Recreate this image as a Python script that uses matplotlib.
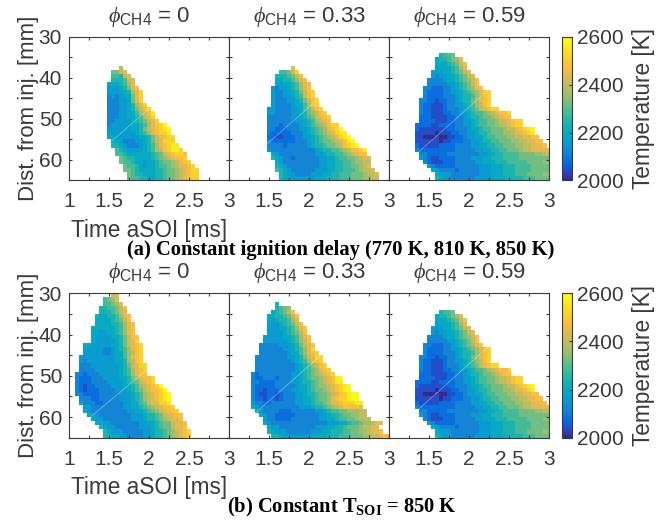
import numpy as np
import matplotlib
matplotlib.use('Agg')
import matplotlib.pyplot as plt
from matplotlib.colors import LinearSegmentedColormap

plt.rcParams['font.family'] = ['Liberation Sans', 'DejaVu Sans']
plt.rcParams['mathtext.fontset'] = 'custom'
plt.rcParams['mathtext.rm'] = 'Liberation Sans'
plt.rcParams['mathtext.it'] = 'Liberation Serif:italic'
plt.rcParams['mathtext.bf'] = 'Liberation Serif:bold'

DARK = '#3a3a3a'

# hex digit per cell: temperature = 2000 + 40 * digit, one string per mm row,
# start = column of first cell (column j is 1 + 0.05 * j ms), top = first row in mm
a1_top = 37
a1_start = [13, 11, 11, 11, 10, 10, 10, 10, 10, 10, 10, 10, 10, 10, 10, 10, 10, 10,
            11, 11, 12, 12, 13, 13, 14, 14, 15, 15]
a1_cells = ['a', '88ab', '776ab', '6667ab', '555679b', '444568bc', '4444569bd', '3434558bd',
            '3334458bd', '3334456 9bd', '33344568acd', '333445579ace', '333445567abd',
            '3344445678abd', '34444455679bcdf', '4444445568abcdef', '4444444567 9bcdde',
            '55444444556 8abcdd', '5543334456 8abddd', '66543334567 9bcdee', '76544445679acdeed',
            '776555555678abcddc', '87665555678 9abccd', '877655455678 89abcd', '877654556778 9abbcd',
            '8876555566788 9abcdd', '876655566788 9abcdd', '877665566788 9abcdd']

a2_top = 37
a2_start = [16, 13, 12, 12, 12, 11, 11, 11, 11, 11, 10, 10, 10, 10, 10, 10, 10, 10, 10, 10,
            10, 11, 11, 12, 12, 12, 13, 13]
a2_cells = ['b', '778ad', '6667 8ac', '55667 9bc', '545567 9bc', '4344567 9bc', '43344568acd',
            '4334456 7acd', '433344568acd', '433334557 9cd', '44333344578acd', '443333445689acd',
            '33333344567 8abcd', '333333344567 9abc', '333233334567 89acdd', '3322233344567 89bcdf',
            '32222233345678 9abdee', '221122233445678 9abdef', '3222222333456788 9abcef',
            '33332333334566788 9acdef', '433333333333 4566778 9accde', '543333333334456 67789abcc',
            '6543323333334455677889abb', '543333333334455667789 9aa', '654333333334455667788 9ab',
            '7654333333444556677789aab', '6544333344455667778889aab', '6554444445556667778889 9aa']

a3_top = 34
a3_start = [13, 12, 12, 12, 11, 11, 10, 10, 9, 9, 9, 8, 8, 8, 8, 8, 8, 7, 7, 7, 7, 7, 7, 7,
            8, 8, 9, 10, 11, 12, 12]
a3_cells = ['6778', '566789b', '555678ac', '45556 79b', '4445567 8ab', '43445567 8ab',
            '33334556789ac', '33333445 678ac', '33222334567 89bc', '32222334456789bcd',
            '3222233345667 9acd', '33221223345668 9bcd', '32211123344567 9acd', '3221112333456 78abcdd',
            '32211122334456778 9abccd', '222111122334566788 9abcc', '22221112233445677889aabcdd',
            '222211222233445 67788 9aabcdd', '211111112233345567788 89aabcdef',
            '111110111223344566788 899abbcde', '11000100112 2344556778889 9aabbcc',
            '11111101122233445667788899aabbcc', '2111112222333 34455667788 899aabbbc',
            '3222222222333 33445566778889aabbbbb', '3322222333 3333344556677778888 99aaa',
            '4321122223333444556667777 88888888', '32111222333334455566 67777788889 9',
            '4322222333333444555666777788888', '5433332333334445556667777 88888',
            '54443333333444555666777 888899', '65443333334444555566667 778888']

b1_top = 30
b1_start = [11, 9, 9, 8, 8, 7, 7, 7, 6, 6, 6, 6, 4, 4, 4, 3, 3, 3, 3, 2, 2, 2, 2, 2, 2, 3, 3,
            4, 4, 5, 6, 7, 8, 9, 9]
b1_cells = ['ab', '789b', '7789b', '66778ac', '66678ab', '655667 9bc', '555567 8ac', '55556679bc',
            '5555556 79bc', '5544556 79bc', '54444556 8acc', '54444456 8abd', '554444 45568abcd',
            '44444334567 9bcd', '44444334557 9acd', '4444444445579bcd', '4344444445569acd',
            '33344444445 68abdd', '33334444445679bcd', '33233344444567 9bcc', '3222333444455689bccd',
            '32223333444456 78abcd', '3212233334445567 9abcdf', '32122233334445678abccdf',
            '332222333334445679abcdef', '33322333334445679abcdef', '43332233333 4455 78abbdde',
            '4433333333445567 89abccd', '543333333334455678 9abccd', '5443333333344456 678abbcc',
            '54433333334445667 89abbc', '55443333333445567 88abbc', '6544333333444567 88abbc',
            '6544433333445667 89abcd', '6655443333445667 89abcd']

b2_top = 32
b2_start = [12, 12, 11, 10, 10, 10, 10, 10, 9, 9, 8, 8, 8, 7, 7, 7, 7, 6, 6, 6, 6, 6, 6, 6, 6,
            6, 7, 8, 9, 9, 10, 10, 11]
b2_cells = ['6', '6789', '5678ac', '5566 78ac', '54566 79b', '444567 8ac', '4445567 9bc',
            '4444567 8ac', '444445567 9bc', '44444456 79ac', '33333444568abc', '33333344567 9bd',
            '3333333455 79bcd', '33333333445 68abdd', '33333333345679bcd', '333333333345679acd',
            '33333333334567 89bcd', '323333333344567 89abcd', '32233323334456788 9abcef',
            '33222233334456678 9abcee', '3222223333345 5678 99abcdef', '3221222333445567 889abcdef',
            '321122123334456678 89abcdeff', '32212212333445567 889bcddeff',
            '4332233333344556778 9bbcdddee', '54333333333344456 6789abccccb',
            '543333222333333445 67788999aa', '54332222233333344566 7889 9aa',
            '43322223333333445567 7889aaa', '54333333333333334445567789 9abb',
            '544333333333444556678889aabb', '6544433333344455666778899abbc',
            '66544444 4455556667778889 9aabcc']

b3_top = a3_top
b3_start = a3_start
b3_cells = a3_cells

panel_tops = [a1_top, a2_top, a3_top, b1_top, b2_top, b3_top]
panel_starts = [a1_start, a2_start, a3_start, b1_start, b2_start, b3_start]
panel_cells = [a1_cells, a2_cells, a3_cells, b1_cells, b2_cells, b3_cells]

titles = ['0', '0.33', '0.59']

# faint diagonal stitching line seen in each panel
streak_t = [(1.50, 2.00), (1.46, 2.10), (1.375, 2.25), (1.28, 1.97), (1.33, 2.15), (1.375, 2.25)]
streak_d = [(56.0, 47.5), (56.4, 45.4), (58.0, 42.8), (59.8, 48.6), (59.0, 45.0), (58.0, 42.8)]

captions = ['(a) Constant ignition delay (770 K, 810 K, 850 K)',
            r'(b) Constant T$_{\mathbf{SOI}}$ = 850 K']

parula = LinearSegmentedColormap.from_list('parula', [
    (0.2081, 0.1663, 0.5292), (0.1959, 0.2645, 0.7279), (0.0117, 0.3875, 0.8820),
    (0.0498, 0.4586, 0.8641), (0.0793, 0.5200, 0.8312), (0.0343, 0.5966, 0.8199),
    (0.0231, 0.6418, 0.7913), (0.0384, 0.6743, 0.7436), (0.1133, 0.7015, 0.6859),
    (0.2178, 0.7250, 0.6193), (0.3482, 0.7424, 0.5473), (0.4871, 0.7491, 0.4840),
    (0.6099, 0.7473, 0.4337), (0.7184, 0.7411, 0.3905), (0.8185, 0.7327, 0.3498),
    (0.9139, 0.7258, 0.3063), (0.9938, 0.7455, 0.2403), (0.9880, 0.8066, 0.1794),
    (0.9626, 0.8705, 0.1309), (0.9661, 0.9514, 0.0755), (0.9763, 0.9831, 0.0538)], N=256)


def build_grid(top, start, cells):
    grid = np.full((35, 41), np.nan)
    for i, (s, row) in enumerate(zip(start, cells)):
        row = row.replace(' ', '')
        for k, ch in enumerate(row):
            if s + k <= 40:
                grid[top - 30 + i, s + k] = 2000 + 40 * int(ch, 16)
    return np.ma.masked_invalid(grid)


def place(fig, left, top, right, bottom):
    W, H = 670.0, 522.0
    return fig.add_axes([left / W, 1 - bottom / H, (right - left) / W, (bottom - top) / H])


fig = plt.figure(figsize=(6.7, 5.22), dpi=100)
time_edges = 0.975 + 0.05 * np.arange(42)
dist_edges = np.arange(30, 66)

lefts = [69, 229, 389]
rows = [(37, 180.3), (293.3, 437.7)]

for r, (top, bottom) in enumerate(rows):
    for c, left in enumerate(lefts):
        p = r * 3 + c
        ax = place(fig, left, top, left + 160, bottom)
        grid = build_grid(panel_tops[p], panel_starts[p], panel_cells[p])
        mesh = ax.pcolormesh(time_edges, dist_edges, grid, cmap=parula, vmin=2000, vmax=2600)
        ax.plot(streak_t[p], streak_d[p], color='white', lw=0.5, alpha=0.45)
        ax.set_xlim(1, 3)
        ax.set_ylim(65, 30)
        ax.set_xticks([1, 1.25, 1.5, 1.75, 2, 2.25, 2.5, 2.75, 3])
        first = '1' if c == 0 else ''
        ax.set_xticklabels([first, '', '1.5', '', '2', '', '2.5', '', '3'])
        ax.set_yticks([30, 35, 40, 45, 50, 55, 60, 65])
        ax.tick_params(direction='in', top=True, right=True, length=2, width=0.8, color=DARK,
                       labelsize=15, labelcolor=DARK)
        ax.tick_params(axis='x', pad=8.5)
        ax.tick_params(axis='y', pad=5)
        for spine in ax.spines.values():
            spine.set_color(DARK)
            spine.set_linewidth(0.8)
        if c == 0:
            ax.set_yticklabels(['30', '', '40', '', '50', '', '60', ''])
            ax.set_ylabel('Dist. from inj. [mm]', fontsize=16, color=DARK, labelpad=0)
            ax.set_xlabel('Time aSOI [ms]', fontsize=16.3, color=DARK, labelpad=5.5)
        else:
            ax.set_yticklabels([])
        ax.set_title(r'$\phi_{\mathrm{CH4}}$ = ' + titles[c], fontsize=16, color=DARK, pad=11)

    cax = place(fig, 562, top, 571.5, bottom)
    cbar = fig.colorbar(mesh, cax=cax, ticks=[2000, 2200, 2400, 2600])
    cbar.ax.tick_params(direction='in', length=2, width=0.8, color=DARK, labelsize=15,
                        labelcolor=DARK, pad=4)
    cbar.outline.set_edgecolor(DARK)
    cbar.set_label('Temperature [K]', fontsize=16.3, color=DARK, labelpad=6)

fig.text(341 / 670, 1 - 250 / 522, captions[0], ha='center', va='center', family='Liberation Serif',
         weight='bold', fontsize=14.8, color='black')
fig.text(342 / 670, 1 - 507 / 522, captions[1], ha='center', va='center', family='Liberation Serif',
         weight='bold', fontsize=14.8, color='black')

fig.savefig('out.png', dpi=100)
